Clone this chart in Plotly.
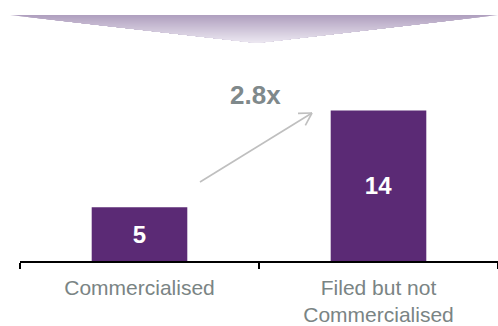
import plotly.graph_objects as go
import math

categories = ["Commercialised", "Filed but not<br>Commercialised"]
values = [5, 14]
value_labels = ["5", "14"]
multiplier_label = "2.8x"

W, H = 498, 326
ML, MR, MT, MB = 20, 0, 10, 65
plot_w = W - ML - MR
plot_h = H - MT - MB
px_per_unit = 10.75
y_max = plot_h / px_per_unit

def px_to_data(px, py):
    x = (px - ML) / plot_w * 2 - 0.5
    y = (H - MB - py) / px_per_unit
    return x, y

def px_to_paper(px, py):
    return (px - ML) / plot_w, (H - MB - py) / plot_h

fig = go.Figure()
fig.add_trace(go.Bar(
    x=categories, y=values, text=[f"<b>{v}</b>" for v in value_labels],
    textposition="inside", insidetextanchor="middle",
    textfont=dict(color="white", size=24, family="Liberation Sans"),
    marker=dict(color="#5B2A75", line=dict(width=0)),
    width=0.4, hoverinfo="skip",
))

shapes = []
top_c = (176, 160, 191)
bot_c = (238, 234, 243)
y_top, y_apex = 15, 43
x_left, x_right, x_apex = 10, 498, 257
N = 28
for i in range(N):
    t = i / N
    py = y_top + t * (y_apex - y_top)
    lx = x_left + t * (x_apex - x_left)
    rx = x_right + t * (x_apex - x_right)
    c = tuple(int(round(top_c[k] + t * (bot_c[k] - top_c[k]))) for k in range(3))
    p1 = px_to_paper(lx, py)
    p2 = px_to_paper(rx, py)
    p3 = px_to_paper(x_apex, y_apex)
    path = f"M {p1[0]},{p1[1]} L {p2[0]},{p2[1]} L {p3[0]},{p3[1]} Z"
    shapes.append(dict(type="path", xref="paper", yref="paper", path=path,
                       fillcolor=f"rgb{c}", line=dict(width=0), layer="above"))

sx, sy = 200, 182
ex, ey = 312, 113
arrow_col = "#BFBFBF"
a0 = px_to_data(sx, sy)
a1 = px_to_data(ex, ey)
shapes.append(dict(type="line", xref="x", yref="y", x0=a0[0], y0=a0[1], x1=a1[0], y1=a1[1],
                   line=dict(color=arrow_col, width=1.6)))
ang = math.atan2(ey - sy, ex - sx)
hl = 14
for d in (math.radians(150), math.radians(-150)):
    hx = ex + hl * math.cos(ang + d)
    hy = ey + hl * math.sin(ang + d)
    h0 = px_to_data(hx, hy)
    shapes.append(dict(type="line", xref="x", yref="y", x0=h0[0], y0=h0[1], x1=a1[0], y1=a1[1],
                       line=dict(color=arrow_col, width=1.6)))

lx, ly = px_to_data(255, 95)
fig.add_annotation(x=lx, y=ly, xref="x", yref="y", text=f"<b>{multiplier_label}</b>",
                   showarrow=False, font=dict(size=26, color="#7F898B", family="Liberation Sans"))

fig.update_layout(
    width=W, height=H,
    margin=dict(l=ML, r=MR, t=MT, b=MB, autoexpand=False),
    plot_bgcolor="white", paper_bgcolor="white",
    showlegend=False,
    shapes=shapes,
    font=dict(family="Liberation Sans"),
)
fig.update_xaxes(
    type="category", range=[-0.5, 1.5], automargin=False,
    showline=True, linecolor="black", linewidth=1.5,
    ticks="outside", tickson="boundaries", ticklen=6, tickcolor="black", tickwidth=1.5,
    tickfont=dict(size=21, color="#7A8484", family="Liberation Sans"),
    ticklabelstandoff=7,
    showgrid=False, zeroline=False,
)
fig.update_yaxes(range=[0, y_max], visible=False, showgrid=False, zeroline=False, automargin=False)

fig.write_html("out.html")
